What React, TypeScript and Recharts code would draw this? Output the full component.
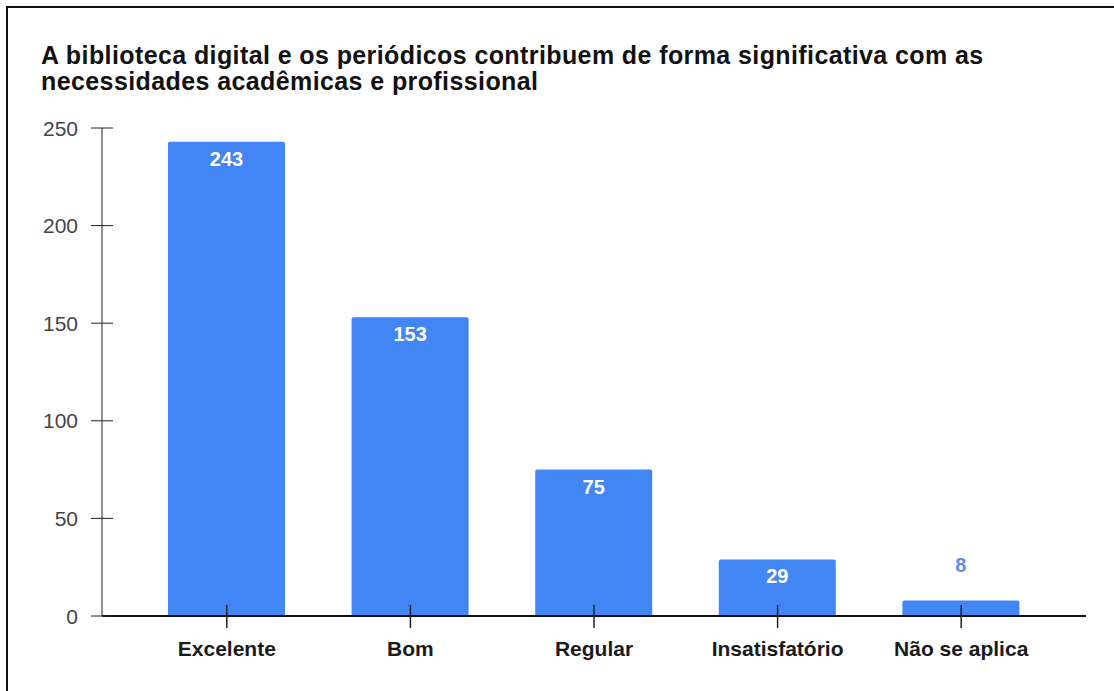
import React from "react";
import { BarChart, Bar, XAxis, YAxis, LabelList } from "recharts";

const categories = ["Excelente", "Bom", "Regular", "Insatisfatório", "Não se aplica"];
const values = [243, 153, 75, 29, 8];
const yTicks = [0, 50, 100, 150, 200, 250];
const title1 = "A biblioteca digital e os periódicos contribuem de forma significativa com as";
const title2 = "necessidades acadêmicas e profissional";

const data = categories.map((c, i) => ({ name: c, value: values[i] }));
const FONT = "Arial, 'Liberation Sans', sans-serif";

const YTick = (props: any) => {
  const { x, y, payload } = props;
  return (
    <g>
      <line x1={x - 11} x2={x + 11} y1={y} y2={y} stroke="#222" strokeWidth={1} />
      <text x={x - 24} y={y + 7.5} textAnchor="end" fontSize={21} fill="#444" fontFamily={FONT}>
        {payload.value}
      </text>
    </g>
  );
};

const XTick = (props: any) => {
  const { x, y, payload } = props;
  return (
    <g>
      <line x1={x} x2={x} y1={y - 11} y2={y + 12} stroke="#222" strokeWidth={1.5} />
      <text x={x} y={y + 40} textAnchor="middle" fontSize={21} fontWeight="bold" fill="#1a1a1a" fontFamily={FONT}>
        {payload.value}
      </text>
    </g>
  );
};

const BarLabel = (props: any) => {
  const { x, y, width, height, value } = props;
  const inside = height > 30;
  return (
    <text
      x={x + width / 2}
      y={inside ? y + 24 : y - 28}
      textAnchor="middle"
      fontSize={20}
      fontWeight="bold"
      fill={inside ? "#ffffff" : "#5b8def"}
      fontFamily={FONT}
    >
      {value}
    </text>
  );
};

export default function App() {
  return (
    <div style={{ position: "absolute", left: 0, top: 0, width: 1114, height: 691, background: "#fff", overflow: "hidden" }}>
      <div
        style={{
          position: "absolute",
          left: 6,
          top: 6,
          width: 1120,
          height: 700,
          borderLeft: "2px solid #111",
          borderTop: "2px solid #111",
        }}
      />
      <div
        style={{
          position: "absolute",
          left: 41,
          top: 42,
          fontFamily: FONT,
          fontWeight: "bold",
          fontSize: 25,
          letterSpacing: "0.4px",
          lineHeight: "26px",
          color: "#111",
          whiteSpace: "nowrap",
        }}
      >
        <div>{title1}</div>
        <div>{title2}</div>
      </div>
      <div style={{ position: "absolute", left: 0, top: 0 }}>
        <BarChart width={1114} height={691} data={data} margin={{ top: 128, right: 28, bottom: 35, left: 0 }}>
          <YAxis
            width={102}
            domain={[0, 250]}
            ticks={yTicks}
            interval={0}
            tickSize={0}
            tickMargin={0}
            tickLine={false}
            axisLine={{ stroke: "#222", strokeWidth: 1 }}
            tick={<YTick />}
          />
          <XAxis
            dataKey="name"
            height={40}
            padding={{ left: 33, right: 33 }}
            tickSize={0}
            tickMargin={0}
            tickLine={false}
            interval={0}
            axisLine={{ stroke: "#111", strokeWidth: 2 }}
            tick={<XTick />}
          />
          <Bar dataKey="value" fill="#4285f4" barSize={117} radius={[2, 2, 0, 0]} isAnimationActive={false}>
            <LabelList dataKey="value" content={<BarLabel />} />
          </Bar>
        </BarChart>
      </div>
    </div>
  );
}
